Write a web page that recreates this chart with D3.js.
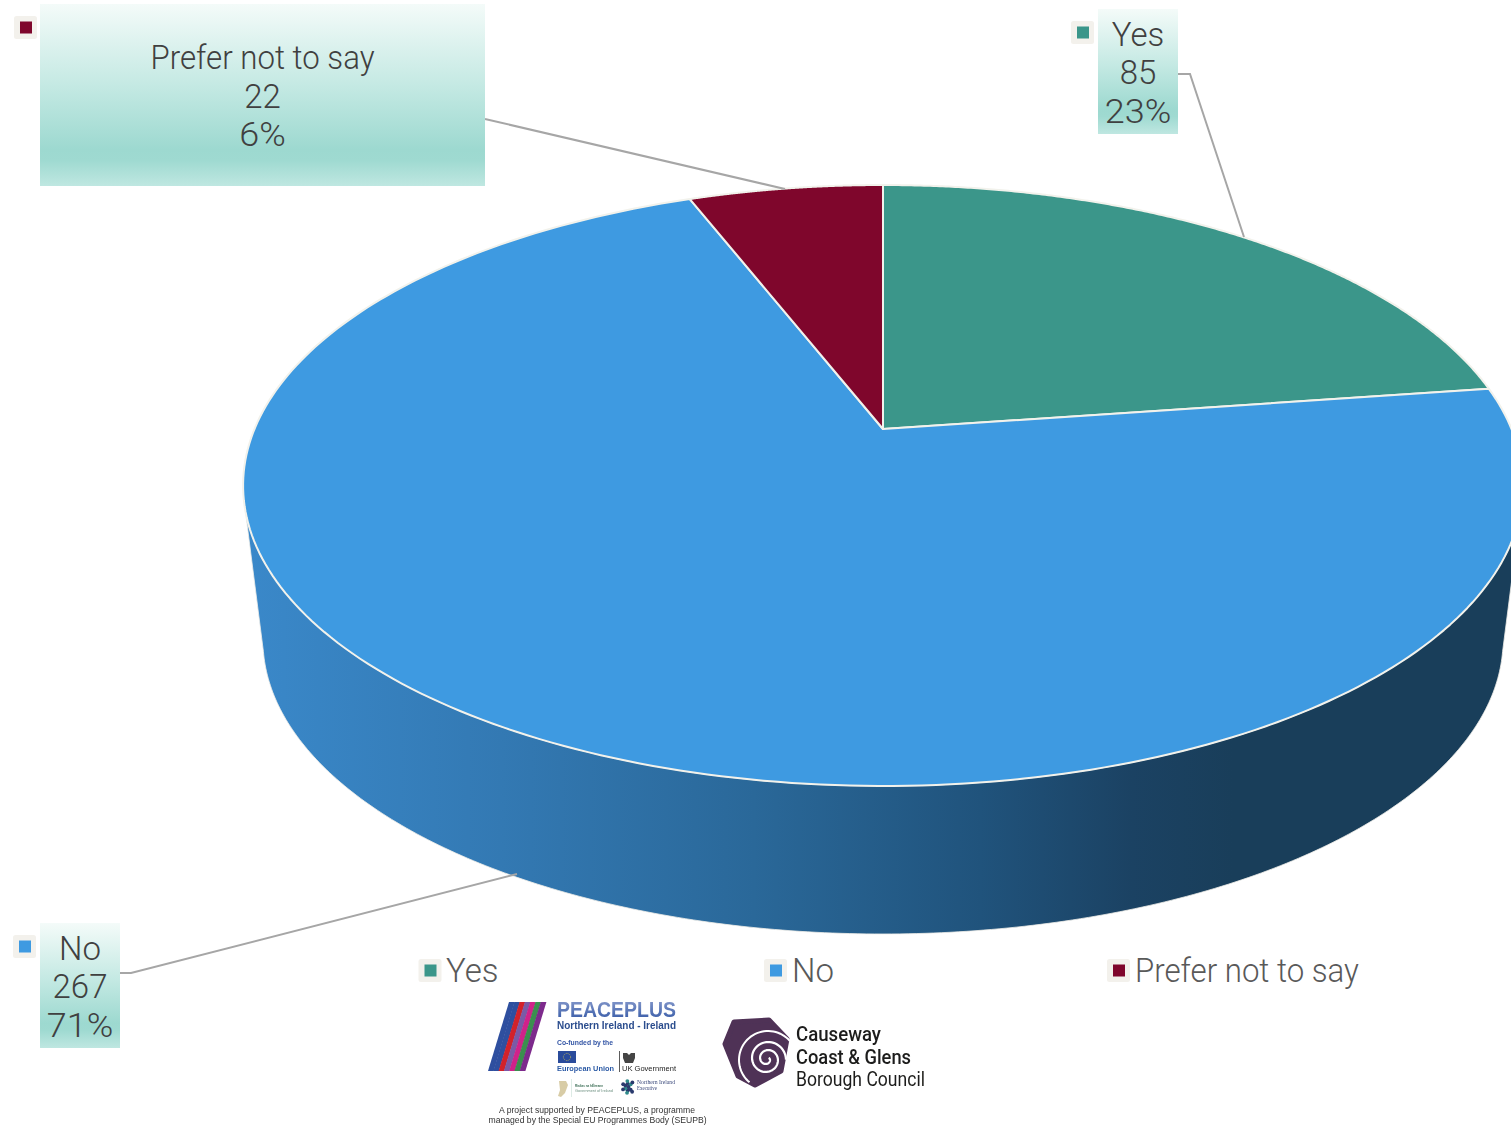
<!DOCTYPE html>
<html><head><meta charset="utf-8">
<script src="https://cdn.jsdelivr.net/npm/d3@7/dist/d3.min.js"></script>
<style>html,body{margin:0;padding:0;background:#fff;overflow:hidden}svg{display:block}</style>
</head><body><svg id="c" width="1511" height="1128" viewBox="0 0 1511 1128"></svg>
<script>
const categories = ["Yes","No","Prefer not to say"];
const values = [85,267,22];
const percents = ["23%","71%","6%"];
const colors = ["#3b968a","#3e9ae1","#7f062c"];

const svg = d3.select("#c");
const defs = svg.append("defs");
const FONT = "Roboto, 'Liberation Sans', sans-serif";

// perspective projection of the pie disc: top face and bottom face
const cx = 883;
const persp = 0.188;
const topFace = {k:628.5, a:-209.2, c:429};
const botFace = {k:609, a:-173.6, c:584.8};
function proj(f, th){
  const u = Math.sin(th), v = Math.cos(th), w = 1 + persp*v;
  return [cx + f.k*u/w, (f.a*v + f.c)/w];
}
const line = d3.line();
const arcPts = (f,a0,a1,n=240)=>d3.range(n+1).map(i=>proj(f,a0+(a1-a0)*i/n));

const arcs = d3.pie().sort(null).value(d=>d)(values);

// side wall
const g = defs.append("linearGradient").attr("id","side").attr("gradientUnits","userSpaceOnUse")
  .attr("x1",250).attr("x2",1510).attr("y1",0).attr("y2",0);
[[0,"#3a88c9"],[0.2,"#3379b3"],[0.4,"#2a6899"],[0.58,"#20537c"],[0.7,"#1b4263"],[0.78,"#193e5a"],[1,"#193e5a"]]
  .forEach(s=>g.append("stop").attr("offset",s[0]).attr("stop-color",s[1]));
const rad = d=>d*Math.PI/180;
const wall = arcPts(topFace,rad(105.5),rad(254.5)).concat(arcPts(botFace,rad(103),rad(257)).reverse());
svg.append("path").attr("d",line(wall)+"Z").attr("fill","url(#side)")
  .attr("stroke","#efeee8").attr("stroke-width",0.8);

// top face
svg.selectAll("path.slice").data(arcs).join("path").attr("class","slice")
  .attr("d",d=>line([[cx,topFace.c]].concat(arcPts(topFace,d.startAngle,d.endAngle)))+"Z")
  .attr("fill",(d,i)=>colors[i])
  .attr("stroke","#f2f2ec").attr("stroke-width",2).attr("stroke-linejoin","round");

// leader lines
const leaderYes = [[1178,74],[1190,74],[1244,237]];
const leaderNo = [[120,973],[131,973],[517,874]];
const leaderPrefer = [[485,119],[785,189]];
svg.selectAll("path.lead").data([leaderYes,leaderNo,leaderPrefer]).join("path").attr("class","lead")
  .attr("d",d=>line(d)).attr("fill","none").attr("stroke","#a6a6a6").attr("stroke-width",2);

// label boxes
const lg = defs.append("linearGradient").attr("id","box").attr("x1",0).attr("x2",0).attr("y1",0).attr("y2",1);
[[0,"#f4fbf9"],[0.45,"#c4e9e3"],[0.8,"#9dd9d0"],[0.86,"#9fdad1"],[1,"#bfe7e1"]]
  .forEach(s=>lg.append("stop").attr("offset",s[0]).attr("stop-color",s[1]));
const boxes = [
  {i:0,x:1098,y:9,w:80,h:125,mx:1071,my:21},
  {i:1,x:40,y:923,w:80,h:125,mx:13,my:935},
  {i:2,x:40,y:4,w:445,h:182,mx:14,my:16}
];
function marker(x,y,c){
  svg.append("rect").attr("x",x).attr("y",y).attr("width",23).attr("height",23).attr("rx",2.5).attr("fill","#f3f1ec");
  svg.append("rect").attr("x",x+6).attr("y",y+5.5).attr("width",12).attr("height",12).attr("fill",c);
}
// reference face is narrower on long words, wider on digits with a percent sign
function fit(sel){
  const t = sel.text();
  const f = t.length>8 ? 0.945 : (t.endsWith("%") ? 1.09 : 1);
  if(f!==1) sel.attr("textLength",sel.node().getComputedTextLength()*f).attr("lengthAdjust","spacingAndGlyphs");
  return sel;
}
boxes.forEach(b=>{
  svg.append("rect").attr("x",b.x).attr("y",b.y).attr("width",b.w).attr("height",b.h).attr("fill","url(#box)");
  marker(b.mx,b.my,colors[b.i]);
  const lines=[categories[b.i],String(values[b.i]),percents[b.i]];
  const first = b.y + (b.h-125)/2 + 36.5;
  lines.forEach((t,k)=>fit(svg.append("text").attr("x",b.x+b.w/2).attr("y",first+k*38.6)
    .attr("text-anchor","middle").attr("font-family",FONT).attr("font-weight",300)
    .attr("font-size",33).attr("fill","#404040").text(t)));
});

// legend
const legendX = [418.5,764,1107];
const legendTextX = [446,792,1135];
categories.forEach((c,i)=>{
  marker(legendX[i],959,colors[i]);
  fit(svg.append("text").attr("x",legendTextX[i]).attr("y",982).attr("font-family",FONT).attr("font-weight",300)
    .attr("font-size",33).attr("fill","#595959").text(c));
});

// logos
const soft = defs.append("filter").attr("id","soft");
soft.append("feGaussianBlur").attr("stdDeviation",0.45);
const logo = svg.append("g").attr("filter","url(#soft)");
const T=(t,x,y,s,w,c,o={})=>{const e=logo.append("text").attr("x",x).attr("y",y).attr("font-size",s)
  .attr("font-weight",w).attr("fill",c).attr("font-family",o.f||"'Liberation Sans',sans-serif").text(t);
  if(o.len)e.attr("textLength",o.len).attr("lengthAdjust","spacingAndGlyphs");
  if(o.anchor)e.attr("text-anchor",o.anchor);return e;};
const stripes = ["#2f4f9f","#2f4f9f","#d2232a","#7a5aa6","#d0218a","#3a8f4f","#7d2a8c"];
const sx = d3.scaleLinear().domain([0,7]).range([0,37]);
stripes.forEach((c,i)=>logo.append("path").attr("fill",c)
  .attr("d",line([[509+sx(i),1002],[509+sx(i+1)+.4,1002],[488+sx(i+1)+.4,1071],[488+sx(i),1071]])+"Z"));
const pg = defs.append("linearGradient").attr("id","pp").attr("x1",0).attr("x2",0).attr("y1",0).attr("y2",1);
pg.append("stop").attr("offset",0).attr("stop-color","#8fa0cf");
pg.append("stop").attr("offset",1).attr("stop-color","#2f55a4");
T("PEACEPLUS",557,1017,22,700,"url(#pp)",{len:119});
T("Northern Ireland - Ireland",557,1029,10.5,700,"#2c4d8e",{len:119});
T("Co-funded by the",557,1045,7,700,"#3355a5",{len:56});
logo.append("rect").attr("x",558).attr("y",1051).attr("width",18).attr("height",12).attr("fill","#2a4b9b");
logo.append("circle").attr("cx",567).attr("cy",1057).attr("r",3.6).attr("fill","none").attr("stroke","#d8c94a").attr("stroke-width",.7).attr("stroke-dasharray","1 .9");
T("European Union",557,1071,8,700,"#2c5aa5",{len:57});
logo.append("rect").attr("x",619).attr("y",1051).attr("width",.8).attr("height",21).attr("fill","#333");
logo.append("path").attr("fill","#444").attr("d","M623 1053h4l2 2 2-2h4v5l-2 5h-8l-2-5z");
T("UK Government",622,1071,8,400,"#222",{len:54});
logo.append("path").attr("fill","#d8cca6").attr("d","M559 1081h7l2 4-3 8-4 4-3-1 2-6z");
logo.append("rect").attr("x",571).attr("y",1079).attr("width",.7).attr("height",18).attr("fill","#cfe3da");
T("Rialtas na hÉireann",575,1087,3.6,700,"#3c6e55",{len:28});
T("Government of Ireland",575,1092,3.6,400,"#6d9080",{len:38});
const dots = d3.range(14).map(i=>[628.5+(i%7<1?0:(i<7?3.5:6)*Math.cos(i*0.9)),1087+(i%7<1?0:(i<7?3.5:6)*Math.sin(i*0.9))]);
logo.selectAll("circle.d").data(dots).join("circle").attr("class","d").attr("cx",d=>d[0]).attr("cy",d=>d[1]).attr("r",1.9)
  .attr("fill",(d,i)=>i%3?"#2c3a6e":"#2e8a8a");
T("Northern Ireland",637,1084,5.2,400,"#3c4a7c",{f:"'Liberation Serif',serif",len:38});
T("Executive",637,1090,5.2,400,"#3c4a7c",{f:"'Liberation Serif',serif",len:20});
T("A project supported by PEACEPLUS, a programme",597,1113,8.7,400,"#333",{anchor:"middle",len:196});
T("managed by the Special EU Programmes Body (SEUPB)",597.5,1123,8.7,400,"#333",{anchor:"middle",len:218});

// council logo
logo.append("path").attr("fill","#4f3157").attr("stroke","#4f3157").attr("stroke-width",5).attr("stroke-linejoin","round")
  .attr("d",line([[734,1022],[769,1020],[787,1039],[781,1071],[755,1085],[738,1076],[725,1044]])+"Z");
const spiral = d3.range(0,121).map(i=>{const t=i/120,a=-0.6+t*4.2*Math.PI,r=2+t*17;return [767+r*Math.cos(a),1059+r*Math.sin(a)];});
logo.append("path").attr("d",line(spiral)).attr("fill","none").attr("stroke","#fff").attr("stroke-width",2.2);
const outer = d3.range(0,41).map(i=>{const a=Math.PI*(0.72+1.05*i/40),r=29;return [768+r*Math.cos(a),1060+r*Math.sin(a)];});
logo.append("path").attr("d",line(outer)).attr("fill","none").attr("stroke","#fff").attr("stroke-width",2);
const CF="Roboto,sans-serif";
T("Causeway",796,1041,19.5,500,"#1d1d1b",{f:CF,len:85});
T("Coast & Glens",796,1064,19.5,500,"#1d1d1b",{f:CF,len:115});
T("Borough Council",796,1086,19.5,400,"#1d1d1b",{f:CF,len:129});
</script></body></html>
